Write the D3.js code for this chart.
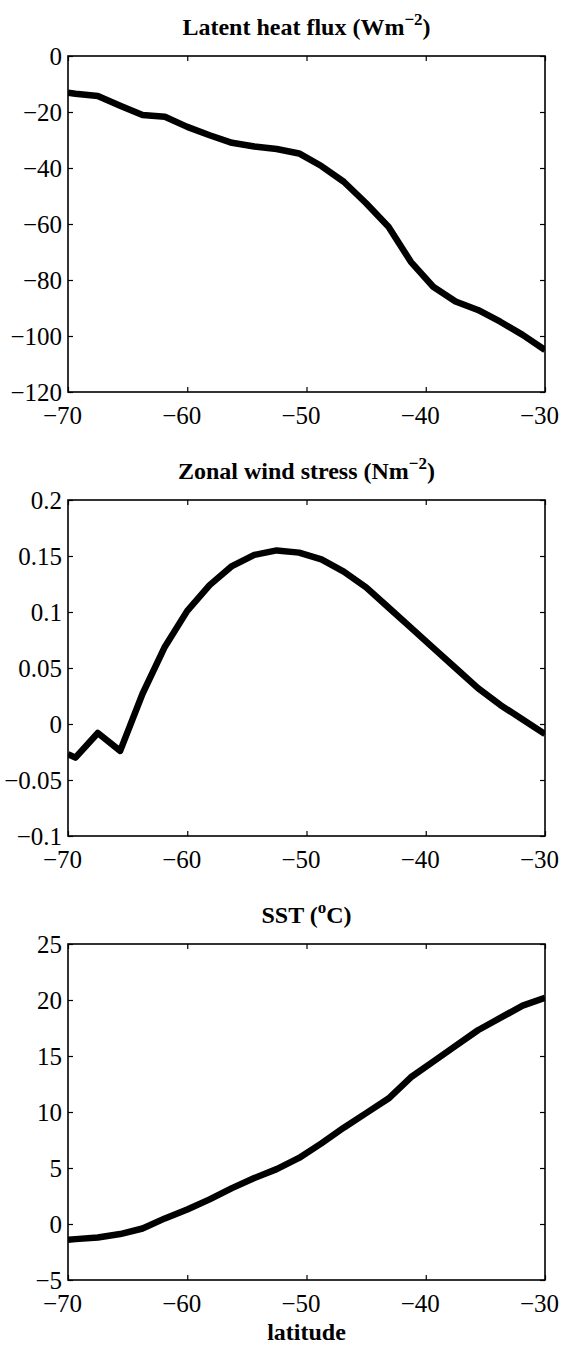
<!DOCTYPE html>
<html>
<head>
<meta charset="utf-8">
<script src="https://cdn.jsdelivr.net/npm/d3@7"></script>
<style>
  html, body { margin: 0; padding: 0; background: #fff; }
  svg { display: block; }
</style>
</head>
<body>
<div id="chart"></div>
<script>
(function(d3) {
  'use strict';

  // model latitudes (deg), shared by all three panels
  var lat = [-70, -69.375, -67.5, -65.625, -63.75, -61.875, -60, -58.125, -56.25,
    -54.375, -52.5, -50.625, -48.75, -46.875, -45, -43.125, -41.25, -39.375,
    -37.5, -35.625, -33.75, -31.875, -30];

  var latentHeat = [-13.1, -13.5, -14.3, -17.8, -21.1, -21.7, -25.3, -28.3, -31.0,
    -32.3, -33.2, -34.8, -39.3, -44.9, -52.6, -61.0, -73.5, -82.4,
    -87.7, -90.7, -94.9, -99.6, -105];

  var windStress = [-0.027, -0.030, -0.008, -0.024, 0.027, 0.069, 0.101, 0.124, 0.141,
    0.151, 0.155, 0.153, 0.147, 0.136, 0.122, 0.104, 0.086, 0.068,
    0.050, 0.032, 0.017, 0.004, -0.009];

  var sst = [-1.4, -1.35, -1.2, -0.9, -0.4, 0.5, 1.3, 2.2, 3.2,
    4.1, 4.9, 5.9, 7.2, 8.6, 9.9, 11.2, 13.1, 14.5,
    15.9, 17.3, 18.4, 19.5, 20.2];

  var xTicks = [-70, -60, -50, -40, -30];
  var latentTicks = [0, -20, -40, -60, -80, -100, -120];
  var windTicks = [0.2, 0.15, 0.1, 0.05, 0, -0.05, -0.1];
  var sstTicks = [25, 20, 15, 10, 5, 0, -5];

  var panels = [
    { title: 'Latent heat flux (Wm', sup: '\u22122', tail: ')', values: latentHeat, ticks: latentTicks, domain: [-120, 0] },
    { title: 'Zonal wind stress (Nm', sup: '\u22122', tail: ')', values: windStress, ticks: windTicks, domain: [-0.1, 0.2] },
    { title: 'SST (', sup: 'o', tail: 'C)', values: sst, ticks: sstTicks, domain: [-5, 25] }
  ];

  var serif = '"Liberation Serif", Tinos, "Times New Roman", Times, "Nimbus Roman", "Nimbus Roman No9 L", FreeSerif, "Noto Serif", "DejaVu Serif", serif';
  var width = 561, height = 1347;
  var left = 68, right = 545;
  var top0 = 56, panelH = 336, panelStep = 444;
  var tick = 5;

  var svg = d3.select('#chart').append('svg')
    .attr('width', width)
    .attr('height', height);

  var x = d3.scaleLinear().domain([-70, -30]).range([left, right]);
  var fmt = d3.format('~g');

  function styleAxis(sel) {
    sel.attr('font-family', serif).attr('font-size', 25);
    sel.select('.domain').remove();
    sel.selectAll('.tick line').attr('stroke', '#000').attr('stroke-width', 1.2);
    sel.selectAll('.tick text').attr('fill', '#000');
  }

  panels.forEach(function(p, i) {
    var top = top0 + i * panelStep;
    var bottom = top + panelH;
    var y = d3.scaleLinear().domain(p.domain).range([bottom, top]);

    var g = svg.append('g');

    // clip so the thick line stays inside the box
    var clipId = 'clip' + i;
    svg.append('clipPath').attr('id', clipId)
      .append('rect')
      .attr('x', left).attr('y', top)
      .attr('width', right - left).attr('height', panelH);

    var line = d3.line()
      .x(function(d, j) { return x(lat[j]); })
      .y(function(d) { return y(d); });

    g.append('path')
      .datum(p.values)
      .attr('clip-path', 'url(#' + clipId + ')')
      .attr('d', line)
      .attr('fill', 'none')
      .attr('stroke', '#000')
      .attr('stroke-width', 6.5)
      .attr('stroke-linejoin', 'round');

    // axes, ticks pointing inward
    g.append('g')
      .attr('transform', 'translate(0,' + bottom + ')')
      .call(d3.axisBottom(x).tickValues(xTicks).tickFormat(fmt)
        .tickSizeInner(-tick).tickSizeOuter(0).tickPadding(14))
      .call(styleAxis)
      .selectAll('.tick text').attr('dx', -6);

    g.append('g')
      .attr('transform', 'translate(0,' + top + ')')
      .call(d3.axisTop(x).tickValues(xTicks).tickFormat('')
        .tickSizeInner(-tick).tickSizeOuter(0))
      .call(styleAxis);

    g.append('g')
      .attr('transform', 'translate(' + left + ',0)')
      .call(d3.axisLeft(y).tickValues(p.ticks).tickFormat(fmt)
        .tickSizeInner(-tick).tickSizeOuter(0).tickPadding(6))
      .call(styleAxis);

    g.append('g')
      .attr('transform', 'translate(' + right + ',0)')
      .call(d3.axisRight(y).tickValues(p.ticks).tickFormat('')
        .tickSizeInner(-tick).tickSizeOuter(0))
      .call(styleAxis);

    // box
    g.append('rect')
      .attr('x', left).attr('y', top)
      .attr('width', right - left).attr('height', panelH)
      .attr('fill', 'none')
      .attr('stroke', '#000')
      .attr('stroke-width', 1.6);

    // title with superscript
    var t = g.append('text')
      .attr('font-family', serif)
      .attr('font-size', 24)
      .attr('font-weight', 'bold')
      .attr('x', (left + right) / 2)
      .attr('y', top - 21)
      .attr('text-anchor', 'middle');
    t.append('tspan').text(p.title);
    t.append('tspan').attr('dy', -10).attr('font-size', 17).text(p.sup);
    t.append('tspan').attr('dy', 10).text(p.tail);
  });

  svg.append('text')
    .attr('font-family', serif)
    .attr('font-size', 24)
    .attr('font-weight', 'bold')
    .attr('x', (left + right) / 2)
    .attr('y', top0 + 2 * panelStep + panelH + 60)
    .attr('text-anchor', 'middle')
    .text('latitude');

}(d3));
</script>
</body>
</html>
